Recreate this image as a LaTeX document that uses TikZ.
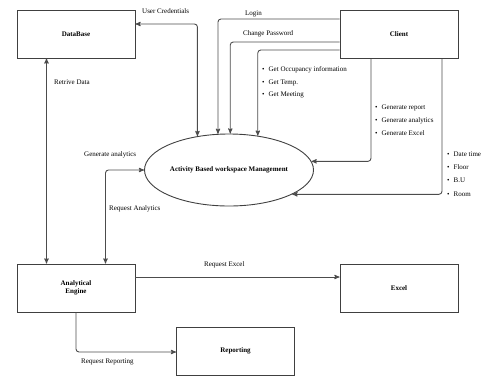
\documentclass[tikz,border=0pt]{standalone}
\usepackage{fontspec}
\setmainfont{Liberation Serif}
\usetikzlibrary{arrows,shapes.geometric,positioning}

\begin{document}
\begin{tikzpicture}[>=stealth',x=1pt,y=-1pt,
        every node/.style={font=\fontsize{7}{12.5}\selectfont},
        block/.style={draw=black!75,line width=0.9pt,minimum width=118pt,minimum height=48pt,
            inner sep=0pt,align=center,font=\fontsize{7}{8}\selectfont\bfseries},
        flow/.style={draw=black!70,line width=0.9pt,rounded corners=3pt},
        lbl/.style={inner sep=0pt,anchor=west},
        items/.style={inner sep=0pt,anchor=north west,align=left}]

                \useasboundingbox (0,0) rectangle (481,376);

                % boxes
                \node[block] (db) at (76,34) {DataBase};
                \node[block] (client) at (399,34.5) {Client};
                \node[block] (engine) at (76,288) {Analytical\\Engine};
                \node[block] (excel) at (399,288) {Excel};
                \node[block] (report) at (235.5,351) {Reporting};
                \node[draw=black!75,line width=0.9pt,ellipse,minimum width=169pt,minimum height=72pt,
                    inner sep=0pt,font=\fontsize{7}{9}\selectfont\bfseries] (ws) at (229,170)
                    {Activity Based workspace Management};

                % points on the client side
                \coordinate (c1) at (client.west |- 0,19);
                \coordinate (c2) at (client.west |- 0,42);
                \coordinate (c3) at (client.west |- 0,50);
                \coordinate (c4) at (client.south -| 371,0);
                \coordinate (c5) at (client.south -| 442,0);

                % connectors
                \draw[flow,<->] (db.east |- 0,24) -| (ws.133.9);
                \draw[flow,->] (c1) -| (ws.107.1);
                \draw[flow,->] (c2) -| (ws.88.4);
                \draw[flow,->] (c3) -| (ws.50.5);
                \draw[flow,->] (c4) |- (ws.6.3);
                \draw[flow,->] (c5) |- (ws.339.1);
                \draw[flow,<->] (db.south -| 46.5,0) -- (engine.north -| 46.5,0);
                \draw[flow,<->] (ws.west) -| (engine.north -| 105.5,0);
                \draw[flow,->] (engine.east |- 0,277) -- (excel.west |- 0,277);
                \draw[flow,->] (engine.south -| 76,0) |- (report.west |- 0,352);

                % labels
                \node[lbl] (lcred) at (142,11) {User Credentials};
                \node[lbl] (llogin) at (245,14) {Login};
                \node[lbl] (lpass) at (243,34) {Change Password};
                \node[items] (lget) at (262,66.5)
                    {\textbullet\hspace{4pt}Get Occupancy information\\
                     \textbullet\hspace{4pt}Get Temp.\\
                     \textbullet\hspace{4pt}Get Meeting};
                \node[items,font=\fontsize{7}{13}\selectfont] (lgen) at (375,104.5)
                    {\textbullet\hspace{4pt}Generate report\\
                     \textbullet\hspace{4pt}Generate analytics\\
                     \textbullet\hspace{4pt}Generate Excel};
                \node[items,font=\fontsize{7}{13.3}\selectfont] (ldate) at (447,151.5)
                    {\textbullet\hspace{4pt}Date time\\
                     \textbullet\hspace{4pt}Floor\\
                     \textbullet\hspace{4pt}B.U\\
                     \textbullet\hspace{4pt}Room};
                \node[lbl] (lret) at (54,82) {Retrive Data};
                \node[lbl] (lgenan) at (84,155) {Generate analytics};
                \node[lbl] (lreqan) at (109,209) {Request Analytics};
                \node[lbl] (lreqex) at (204,265) {Request Excel};
                \node[lbl] (lreqrep) at (81,362) {Request Reporting};

            \end{tikzpicture}
\end{document}
